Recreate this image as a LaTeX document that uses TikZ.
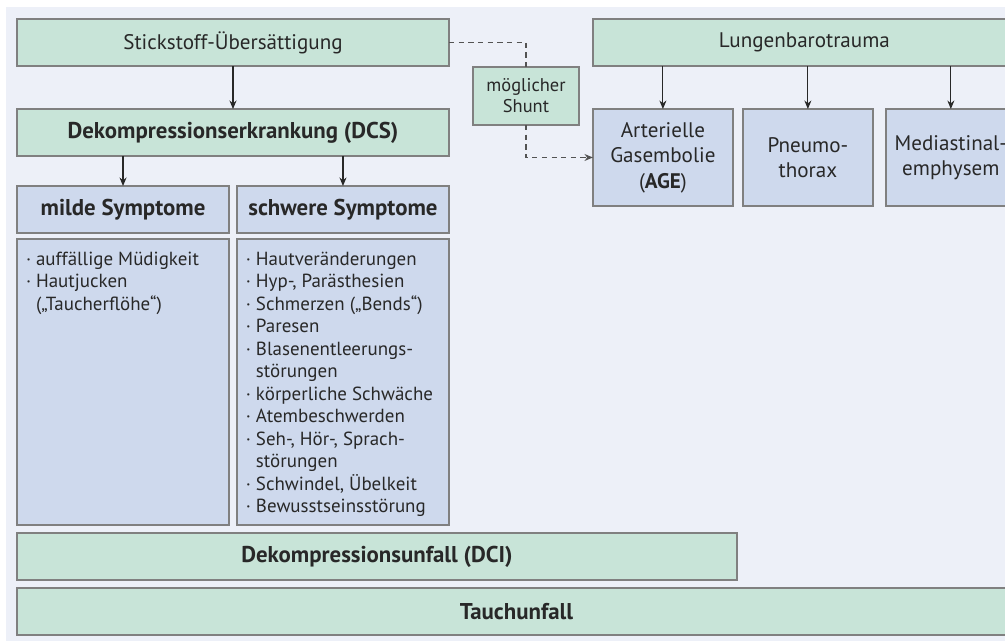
\documentclass[tikz,border=0pt]{standalone}
\usepackage{fontspec}
\setmainfont{PT Sans}
\usepackage{tikz}
\usetikzlibrary{positioning,arrows.meta}

\definecolor{boxgreen}{RGB}{200,228,216}
\definecolor{boxblue}{RGB}{206,217,237}
\definecolor{panelbg}{RGB}{237,240,248}
\definecolor{edgegray}{RGB}{128,128,128}
\definecolor{ink}{RGB}{40,40,40}

\newcommand{\bul}{\makebox[0.2cm][l]{·}}
\newcommand{\ind}{\hspace*{0.2cm}}
\newcommand{\lst}[1]{\parbox[t][5.2cm][t]{3.88cm}{\raggedright #1}}

\begin{document}
\begin{tikzpicture}[
    x=0.02cm, y=-0.02cm,
    box/.style={rectangle, draw=edgegray, line width=0.85pt, outer sep=0pt,
      inner sep=2pt, minimum height=0.94cm, align=center, text=ink,
      font=\fontsize{12}{14.5}\selectfont},
    gbox/.style={box, fill=boxgreen},
    bbox/.style={box, fill=boxblue},
    bold/.style={font=\fontsize{13}{15}\selectfont\bfseries},
    listbox/.style={bbox, minimum width=4.24cm, inner xsep=0.18cm,
      inner ysep=0.26cm, align=left, font=\fontsize{10.8}{12.8}\selectfont},
    arr/.style={-{Stealth[length=0.17cm, width=0.14cm]}, line width=0.6pt, draw=ink},
    shunt/.style={line width=0.6pt, draw=ink!80, dashed, dash pattern=on 3pt off 2.5pt}
  ]
    \path[use as bounding box, clip] (0,0) rectangle (1005,640);
    \fill[panelbg] (6,7) rectangle (1040,660);

    % -- left column: DCS --
    \node[gbox, minimum width=8.64cm] (stick) at (233,42.5) {Stickstoff-Übersättigung};
    \node[gbox, bold, minimum width=8.64cm, below=0.86cm of stick] (dcs)
      {Dekompressionserkrankung (DCS)};
    \node[bbox, bold, minimum width=4.24cm,
      below right=0.6cm and 0cm of dcs.south west] (mild) {milde Symptome};
    \node[bbox, bold, minimum width=4.24cm, right=0.16cm of mild] (severe)
      {schwere Symptome};
    \node[listbox, below=0.12cm of mild] (mildlist) {\lst{%
      \bul auffällige Müdigkeit\\
      \bul Hautjucken\\
      \ind(„Taucherflöhe“)}};
    \node[listbox, below=0.12cm of severe] (severelist) {\lst{%
      \bul Hautveränderungen\\
      \bul Hyp-, Parästhesien\\
      \bul Schmerzen („Bends“)\\
      \bul Paresen\\
      \bul Blasenentleerungs-\\
      \ind störungen\\
      \bul körperliche Schwäche\\
      \bul Atembeschwerden\\
      \bul Seh-, Hör-, Sprach-\\
      \ind störungen\\
      \bul Schwindel, Übelkeit\\
      \bul Bewusstseinsstörung}};

    % -- bottom bars --
    \node[gbox, bold, minimum width=14.4cm,
      below right=0.16cm and 0cm of mildlist.south west] (dci)
      {Dekompressionsunfall (DCI)};
    \node[gbox, bold, minimum width=19.98cm,
      below right=0.16cm and 0cm of dci.south west] (dive) {Tauchunfall};

    % -- right column: barotrauma --
    \node[gbox, minimum width=8.46cm, right=2.88cm of stick] (lung) {Lungenbarotrauma};
    \node[bbox, minimum width=2.8cm, minimum height=1.94cm,
      below right=0.86cm and 0cm of lung.south west] (age)
      {Arterielle\\Gasembolie\\(\textbf{AGE})};
    \node[bbox, minimum width=2.6cm, minimum height=1.94cm, right=0.2cm of age]
      (pneu) {Pneumo-\\thorax};
    \node[bbox, minimum width=2.6cm, minimum height=1.94cm, right=0.26cm of pneu]
      (medi) {Mediastinal-\\emphysem};
    \node[gbox, minimum width=2.12cm, minimum height=1.16cm,
      font=\fontsize{10.5}{12}\selectfont] (shunt) at (526,96) {möglicher\\Shunt};

    % -- connectors --
    \draw[arr] (stick) -- (dcs);
    \draw[arr] (mild.north |- dcs.south) -- (mild);
    \draw[arr] (severe.north |- dcs.south) -- (severe);
    \foreach \b in {age,pneu,medi}
      \draw[arr] (\b.north |- lung.south) -- (\b);
    \draw[shunt] (stick.east) -| (shunt.north);
    \draw[shunt, -{Stealth[length=0.17cm, width=0.14cm]}] (shunt.south) |- (age.west);
  \end{tikzpicture}
\end{document}
